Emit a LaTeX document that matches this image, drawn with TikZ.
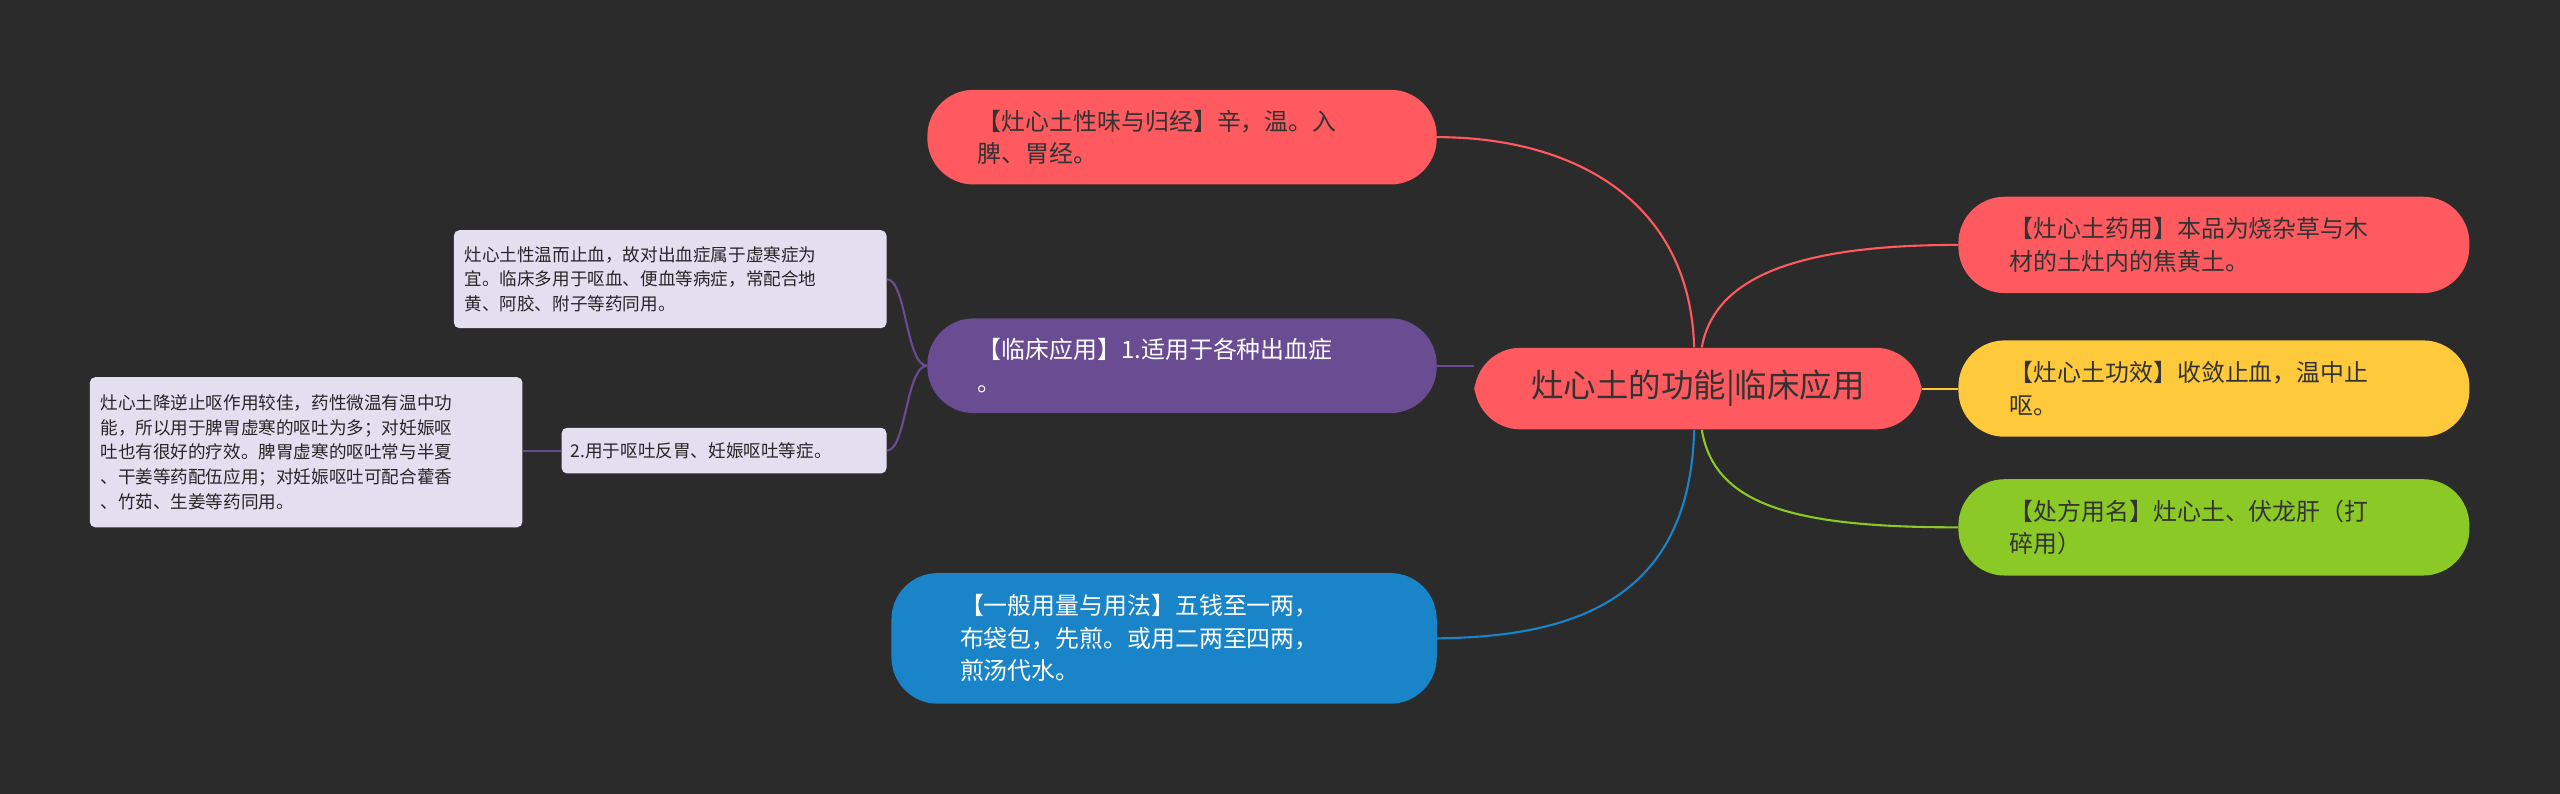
\documentclass[tikz,border=0pt]{standalone}
\usepackage{fontspec}
\setmainfont{Noto Sans CJK SC}
\begin{document}
\begin{tikzpicture}[x=0.03cm,y=-0.03cm,
 pill/.style={rounded corners=0.85cm,inner sep=0pt,align=left,font=\fontsize{12.5}{17}\selectfont},
 note/.style={rounded corners=0.1cm,fill=lav,draw=none,inner sep=0pt,align=left,font=\fontsize{9.2}{13}\selectfont,text=black!85},
 ln/.style={line width=1.1pt}]
\definecolor{bg}{HTML}{2B2B2B}
\definecolor{rd}{HTML}{FF5A5F}
\definecolor{pu}{HTML}{6A4C93}
\definecolor{bl}{HTML}{1A84C8}
\definecolor{ye}{HTML}{FFC93C}
\definecolor{gr}{HTML}{8AC926}
\definecolor{lav}{HTML}{E4DFF0}
\definecolor{tx}{HTML}{333333}
\fill[bg] (0,0) rectangle (1568,486.3);
\useasboundingbox (0,0) rectangle (1568,486.3);
% nodes
\node[pill,fill=rd,minimum width=274*0.03cm,minimum height=50*0.03cm,text=tx,font=\fontsize{17}{20}\selectfont] (c) at (1040,238) {灶心土的功能|临床应用};
\node[pill,fill=rd,minimum width=312*0.03cm,minimum height=58*0.03cm,text=tx,text width=250*0.03cm] (a) at (724,84) {【灶心土性味与归经】辛，温。入\\脾、胃经。};
\node[pill,fill=pu,minimum width=312*0.03cm,minimum height=58*0.03cm,text=white,text width=250*0.03cm] (p) at (724,224) {【临床应用】1.适用于各种出血症\\。};
\node[pill,fill=bl,minimum width=334*0.03cm,minimum height=80*0.03cm,text=white,text width=250*0.03cm] (b) at (713,391) {【一般用量与用法】五钱至一两，\\布袋包，先煎。或用二两至四两，\\煎汤代水。};
\node[pill,fill=rd,minimum width=313*0.03cm,minimum height=59*0.03cm,text=tx,text width=250*0.03cm] (r1) at (1356,150) {【灶心土药用】本品为烧杂草与木\\材的土灶内的焦黄土。};
\node[pill,fill=ye,minimum width=313*0.03cm,minimum height=59*0.03cm,text=tx,text width=250*0.03cm] (r2) at (1356,238) {【灶心土功效】收敛止血，温中止\\呕。};
\node[pill,fill=gr,minimum width=313*0.03cm,minimum height=59*0.03cm,text=tx,text width=250*0.03cm] (r3) at (1356,323) {【处方用名】灶心土、伏龙肝（打\\碎用）};
\node[note,minimum width=265*0.03cm,minimum height=60*0.03cm,text width=252*0.03cm] (n1) at (410.5,171) {灶心土性温而止血，故对出血症属于虚寒症为\\宜。临床多用于呕血、便血等病症，常配合地\\黄、阿胶、附子等药同用。};
\node[note,minimum width=199*0.03cm,minimum height=28*0.03cm,text width=188*0.03cm] (n2) at (443.5,276) {2.用于呕吐反胃、妊娠呕吐等症。};
\node[note,minimum width=265*0.03cm,minimum height=92*0.03cm,text width=252*0.03cm] (n3) at (187.5,277) {灶心土降逆止呕作用较佳，药性微温有温中功\\能，所以用于脾胃虚寒的呕吐为多；对妊娠呕\\吐也有很好的疗效。脾胃虚寒的呕吐常与半夏\\、干姜等药配伍应用；对妊娠呕吐可配合藿香\\、竹茹、生姜等药同用。};
% connectors
\begin{scope}[on background layer/.style={}]
\end{scope}
\draw[ln,rd] ([xshift=-2pt]c.north) .. controls (1035,120) and (960,84) .. (a.east);
\draw[ln,pu] (c.west) ++(0,-14) coordinate (cw) (p.east) -- (cw);
\draw[ln,bl] ([xshift=-2pt]c.south) .. controls (1035,370) and (960,390) .. (b.east);
\draw[ln,rd] ([xshift=2pt]c.north) .. controls (1050,170) and (1100,150) .. (r1.west);
\draw[ln,ye] (c.east) -- (r2.west);
\draw[ln,gr] ([xshift=2pt]c.south) .. controls (1050,310) and (1100,323) .. (r3.west);
\draw[ln,pu] (p.west) .. controls (555,224) and (555,171) .. (n1.east);
\draw[ln,pu] (p.west) .. controls (555,224) and (555,276) .. (n2.east);
\draw[ln,pu] (n2.west) -- (n3.east|-n2.west);
\end{tikzpicture}
\end{document}
